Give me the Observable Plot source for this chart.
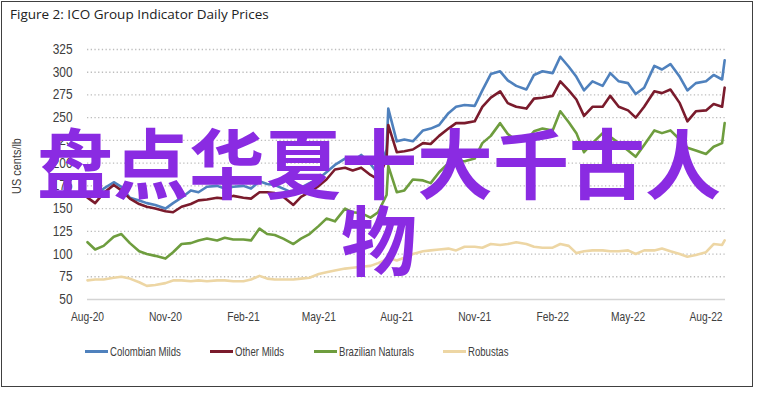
<!DOCTYPE html>
<html><head><meta charset="utf-8">
<script src="https://cdn.jsdelivr.net/npm/d3@7"></script>
<script src="https://cdn.jsdelivr.net/npm/@observablehq/plot@0.6"></script>
<style>
body{margin:0;background:#fff;}
#wrap{position:relative;width:758px;height:393px;overflow:hidden;background:#fff;}
#border{position:absolute;left:1px;top:1px;width:752px;height:386px;box-sizing:border-box;border:1px solid #404040;}
#title{position:absolute;left:10px;top:5px;font-family:"Open Sans",sans-serif;font-size:13.5px;color:#222;white-space:nowrap;}
#chart{position:absolute;left:0;top:0;}
#ylabel{position:absolute;left:16px;top:166px;transform:translate(-50%,-50%) rotate(-90deg) scaleX(0.84);font-family:"Liberation Sans",sans-serif;font-size:13px;color:#404040;white-space:nowrap;}
.leg{position:absolute;top:344px;font-family:"Liberation Sans",sans-serif;font-size:13.5px;color:#404040;white-space:nowrap;line-height:16px;}
.leg span.sw{display:inline-block;width:23px;height:3px;vertical-align:middle;margin-right:2px;position:relative;top:-1px;}
.leg span.tx{display:inline-block;transform:scaleX(0.71);transform-origin:left center;}
#overlay{position:absolute;left:9px;top:122px;width:740px;text-align:center;font-family:"Noto Sans CJK SC",sans-serif;font-weight:700;font-size:76px;line-height:77px;color:#8A2BE2;}
</style></head><body>
<div id="wrap">
  <div id="border"></div>
  <div id="title">Figure 2: ICO Group Indicator Daily Prices</div>
  <div id="chart"></div>
  <div id="ylabel">US cents/lb</div>
  <div id="legend"></div>
  <div id="overlay">盘点华夏十大千古人物</div>
</div>
<script>
const dates = [
"2020-08-01","2020-08-10","2020-08-20","2020-09-01","2020-09-10","2020-09-20",
"2020-10-01","2020-10-10","2020-10-20","2020-11-01","2020-11-10","2020-11-20",
"2020-12-01","2020-12-10","2020-12-20",
"2021-01-01","2021-01-10","2021-01-20","2021-02-01","2021-02-10","2021-02-20",
"2021-03-01","2021-03-10","2021-03-20","2021-04-01","2021-04-10","2021-04-20",
"2021-05-01","2021-05-10","2021-05-20","2021-06-01","2021-06-10","2021-06-20",
"2021-07-01","2021-07-10","2021-07-20","2021-07-22",
"2021-08-01","2021-08-10","2021-08-20","2021-09-01","2021-09-10","2021-09-20",
"2021-10-01","2021-10-10","2021-10-20","2021-11-01","2021-11-10","2021-11-20",
"2021-12-01","2021-12-10","2021-12-20",
"2022-01-01","2022-01-10","2022-01-20","2022-02-01","2022-02-10","2022-02-20",
"2022-03-01","2022-03-10","2022-03-20","2022-04-01","2022-04-10","2022-04-20",
"2022-05-01","2022-05-10","2022-05-20","2022-06-01","2022-06-10","2022-06-20",
"2022-07-01","2022-07-10","2022-07-20","2022-08-01","2022-08-10","2022-08-20","2022-08-23"
];
const colombianMilds = [
166,163,172, 179,174,162, 159,156,154, 150,156,162, 170,168,174,
175,172,174, 175,172,180, 177,176,172, 167,173,178, 183,190,198, 205,202,209, 199,188,215,260,
224,226,224, 236,238,242, 255,262,264, 263,280,298, 301,291,285,
281,297,301, 299,317,306, 295,280,290, 285,299,290, 288,276,283, 307,303,309, 295,280,288, 290,297,292,313
];
const otherMilds = [
162,156,167, 176,170,161, 155,152,150, 147,146,152, 155,159,160,
162,161,164, 162,161,168, 168,167,163, 154,163,168, 175,182,193, 195,192,195, 187,182,205,242,
212,213,215, 222,221,230, 238,244,244, 246,262,272, 279,266,262,
260,271,272, 274,290,280, 270,252,262, 262,274,262, 258,250,262, 279,277,281, 266,246,257, 258,265,262,283
];
const brazilianNaturals = [
113,105,109, 119,122,112, 103,100,98, 95,102,111, 112,115,117,
115,118,116, 116,115,128, 122,121,117, 111,117,122, 131,139,136, 150,146,145, 140,146,165,197,
168,170,182, 181,178,190, 200,202,202, 205,222,230, 244,232,225,
225,235,238, 236,257,245, 233,212,222, 233,229,222, 214,207,220, 236,233,236, 226,217,214, 210,218,222,244
];
const robustas = [
71,72,72, 74,75,73, 69,65,66, 68,71,71, 70,71,70,
71,71,70, 70,72,76, 73,72,72, 72,73,74, 78,80,82, 84,85,86, 87,90,94,96,
93,96,100, 103,104,105, 106,104,108, 108,107,111, 110,111,113,
111,108,107, 107,111,109, 101,103,104, 104,103,103, 104,100,104, 104,106,103, 100,97,99, 102,111,110,115
];
const seriesNames = ["Colombian Milds","Other Milds","Brazilian Naturals","Robustas"];
const seriesColors = ["#4F81BD","#7A1B2C","#6E9D3E","#EDD6A4"];
const yTicks = [50,75,100,125,150,175,200,225,250,275,300,325];
const xTickLabels = ["2020-08-01","2020-11-01","2021-02-01","2021-05-01","2021-08-01","2021-11-01","2022-02-01","2022-05-01","2022-08-01"];
const xDomain = ["2020-08-01","2022-08-24"];

const parse = d3.utcParse("%Y-%m-%d");
const allValues = [colombianMilds, otherMilds, brazilianNaturals, robustas];
const tables = allValues.map(vals => dates.map((d,i)=>({date:parse(d), value:vals[i]})));

const chart = Plot.plot({
  width:758, height:335,
  marginLeft:87, marginRight:33, marginTop:49, marginBottom:36,
  x:{type:"utc", domain:xDomain.map(parse)},
  y:{domain:[50,325]},
  style:{fontFamily:"'Liberation Sans', sans-serif", fontSize:"13.5px", color:"#404040", background:"transparent", overflow:"visible"},
  marks:[
    Plot.ruleY(yTicks.filter(t=>t>50), {stroke:"#bdbdbd", strokeWidth:1.3, strokeDasharray:"1.3,2.4"}),
    Plot.ruleY([50], {stroke:"#d4d4d4", strokeWidth:1.5}),
    Plot.axisY(yTicks, {tickSize:0, tickPadding:15, fill:"#404040", fontSize:14, label:null}),
    Plot.axisX(xTickLabels.map(parse), {tickSize:0, tickPadding:12, fill:"#404040", fontSize:13.5, label:null, tickFormat:d3.utcFormat("%b-%y")}),
    ...tables.map((t,i)=>Plot.line(t, {x:"date", y:"value", stroke:seriesColors[i], strokeWidth:2.6, strokeLinejoin:"round"}))
  ]
});
document.getElementById("chart").appendChild(chart);

function squeeze(el, s) {
  const w = el.getComputedTextLength();
  if (w > 0) {
    el.setAttribute("textLength", (w * s).toFixed(2));
    el.setAttribute("lengthAdjust", "spacingAndGlyphs");
  }
}
chart.querySelectorAll('g[aria-label="y-axis tick label"] text').forEach(el => squeeze(el, 0.85));
chart.querySelectorAll('g[aria-label="x-axis tick label"] text').forEach(el => squeeze(el, 0.76));

const legLefts = [85,210,314,443];
const leg = document.getElementById("legend");
seriesNames.forEach((n,i)=>{
  const div = document.createElement("div");
  div.className = "leg";
  div.style.left = legLefts[i] + "px";
  const sw = document.createElement("span");
  sw.className = "sw";
  sw.style.background = seriesColors[i];
  const tx = document.createElement("span");
  tx.className = "tx";
  tx.textContent = n;
  div.appendChild(sw);
  div.appendChild(tx);
  leg.appendChild(div);
});
</script>
</body></html>
